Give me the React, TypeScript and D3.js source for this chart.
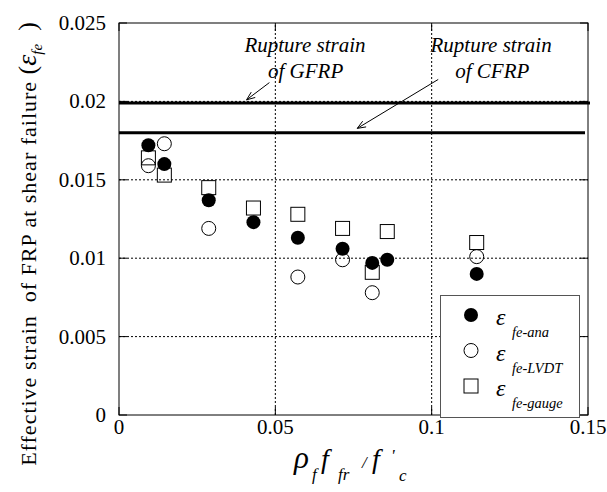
import React from "react";
import * as d3 from "d3";

const xValues = [0.0094, 0.0145, 0.0287, 0.043, 0.0572, 0.0715, 0.081, 0.0858, 0.1144];
const anaValues = [0.0172, 0.016, 0.0137, 0.0123, 0.0113, 0.0106, 0.0097, 0.0099, 0.009];
const lvdtValues: (number | null)[] = [0.0159, 0.0173, 0.0119, null, 0.0088, 0.0099, 0.0078, null, 0.0101];
const gaugeValues = [0.0164, 0.0153, 0.0145, 0.0132, 0.0128, 0.0119, 0.0091, 0.0117, 0.011];

const xTicks = [0, 0.05, 0.1, 0.15];
const yTicks = [0, 0.005, 0.01, 0.015, 0.02, 0.025];
const xTickLabels = ["0", "0.05", "0.1", "0.15"];
const yTickLabels = ["0", "0.005", "0.01", "0.015", "0.02", "0.025"];

const ruptureGFRP = 0.0199;
const ruptureCFRP = 0.018;

const W = 607;
const H = 492;
const M = { left: 119, right: 19, top: 23, bottom: 77 };
const FONT = '"Liberation Serif", "Times New Roman", Times, "DejaVu Serif", serif';

export default function App() {
  const x = d3.scaleLinear().domain([0, 0.15]).range([M.left, W - M.right]);
  const y = d3.scaleLinear().domain([0, 0.025]).range([H - M.bottom, M.top]);
  const x0 = x(0), x1 = x(0.15), y0 = y(0), y1 = y(0.025);
  const R = 7;
  const S = 14;

  const arrow = (sx: number, sy: number, tx: number, ty: number, key: string) => {
    const ax = x(sx), ay = y(sy), bx = x(tx), by = y(ty);
    const ang = Math.atan2(by - ay, bx - ax);
    const L = 9, spread = 0.38;
    const p1 = [bx - L * Math.cos(ang - spread), by - L * Math.sin(ang - spread)];
    const p2 = [bx - L * Math.cos(ang + spread), by - L * Math.sin(ang + spread)];
    return (
      <g key={key} stroke="#000" strokeWidth={1} fill="none">
        <line x1={ax} y1={ay} x2={bx} y2={by} />
        <path d={`M${p1[0]},${p1[1]} L${bx},${by} L${p2[0]},${p2[1]}`} />
      </g>
    );
  };

  return (
    <svg width={W} height={H} style={{ position: "absolute", left: 0, top: 0, background: "#fff", fontFamily: FONT }}>
      <rect x={0} y={0} width={W} height={H} fill="#fff" />
      {/* grid */}
      <g stroke="#000" strokeWidth={1} strokeDasharray="2,2">
        {xTicks.slice(1, -1).map((t) => (
          <line key={"gx" + t} x1={x(t)} x2={x(t)} y1={y0} y2={y1} />
        ))}
        {yTicks.slice(1, -1).map((t) => (
          <line key={"gy" + t} x1={x0} x2={x1} y1={y(t)} y2={y(t)} />
        ))}
      </g>
      {/* ticks */}
      <g stroke="#000" strokeWidth={1}>
        {xTicks.map((t) => (
          <g key={"tx" + t}>
            <line x1={x(t)} x2={x(t)} y1={y0} y2={y0 - 8} />
            <line x1={x(t)} x2={x(t)} y1={y1} y2={y1 + 8} />
          </g>
        ))}
        {yTicks.map((t) => (
          <g key={"ty" + t}>
            <line x1={x0} x2={x0 + 8} y1={y(t)} y2={y(t)} />
            <line x1={x1} x2={x1 - 8} y1={y(t)} y2={y(t)} />
          </g>
        ))}
      </g>
      {/* rupture lines */}
      <line x1={x0} x2={x1 + 2} y1={y(ruptureGFRP)} y2={y(ruptureGFRP)} stroke="#000" strokeWidth={3} />
      <line x1={x0} x2={x1 - 3} y1={y(ruptureCFRP)} y2={y(ruptureCFRP)} stroke="#000" strokeWidth={3} />
      {/* frame */}
      <rect x={x0} y={y1} width={x1 - x0} height={y0 - y1} fill="none" stroke="#000" strokeWidth={1} />
      {/* annotations */}
      <g fontStyle="italic" fontSize={21} textAnchor="middle" fill="#000">
        <text x={x(0.0595)} y={y(0.02315)}>Rupture strain</text>
        <text x={x(0.0597)} y={y(0.0215)}>of GFRP</text>
        <text x={x(0.119)} y={y(0.02315)}>Rupture strain</text>
        <text x={x(0.1194)} y={y(0.0215)}>of CFRP</text>
      </g>
      {arrow(0.0481, 0.0212, 0.0408, 0.0201, "ag")}
      {arrow(0.1021, 0.0214, 0.0762, 0.01828, "ac")}
      {/* data */}
      <g fill="none" stroke="#000" strokeWidth={1}>
        {gaugeValues.map((v, i) => (
          <rect key={"s" + i} x={x(xValues[i]) - S / 2} y={y(v) - S / 2} width={S} height={S} />
        ))}
        {lvdtValues.map((v, i) =>
          v == null ? null : <circle key={"o" + i} cx={x(xValues[i])} cy={y(v)} r={R} />
        )}
      </g>
      <g fill="#000">
        {anaValues.map((v, i) => (
          <circle key={"f" + i} cx={x(xValues[i])} cy={y(v)} r={R} />
        ))}
      </g>
      {/* legend */}
      <g>
        <rect x={440.5} y={295.5} width={139} height={122} fill="#fff" stroke="#555" strokeWidth={1} />
        <circle cx={471} cy={315} r={R} fill="#000" />
        <circle cx={471} cy={350.5} r={R} fill="none" stroke="#000" />
        <rect x={471 - S / 2} y={386 - S / 2} width={S} height={S} fill="none" stroke="#000" />
        {[["fe-ana", 325], ["fe-LVDT", 361], ["fe-gauge", 396]].map(([lab, by]) => (
          <text key={lab as string} x={496} y={by as number} fontStyle="italic" fill="#000">
            <tspan fontSize={24}>ε</tspan>
            <tspan fontSize={14.5} x={512} dy={12}>{lab}</tspan>
          </text>
        ))}
      </g>
      {/* tick labels */}
      <g fontSize={21} fill="#000">
        {yTicks.map((t, i) => (
          <text key={"yl" + t} x={106} y={y(t)} dy="0.33em" textAnchor="end">{yTickLabels[i]}</text>
        ))}
        {xTicks.map((t, i) => (
          <text key={"xl" + t} x={x(t)} y={434} textAnchor="middle">{xTickLabels[i]}</text>
        ))}
      </g>
      {/* y label */}
      <text transform="translate(36,244) rotate(-90)" textAnchor="middle" fontSize={22} fill="#000" style={{ whiteSpace: "pre" }}>
        <tspan letterSpacing={1}>Effective strain  of FRP at shear failure </tspan>
        <tspan fontSize={26}>(</tspan>
        <tspan fontStyle="italic" fontSize={28}>ε</tspan>
        <tspan fontStyle="italic" fontSize={15} dy={6}>fe</tspan>
        <tspan fontSize={26} dy={-6}>  )</tspan>
      </text>
      {/* x label */}
      <text y={468} fontStyle="italic" fontSize={28} fill="#000">
        <tspan x={294} fontSize={31}>ρ</tspan>
        <tspan x={312} fontSize={17} dy={12}>f</tspan>
        <tspan x={321} dy={-12}>f</tspan>
        <tspan x={338} fontSize={17} dy={12}>fr</tspan>
        <tspan x={362} fontSize={17} dy={-12}>/</tspan>
        <tspan x={372}>f</tspan>
        <tspan x={391} fontSize={17} dy={-7}>'</tspan>
        <tspan x={399} fontSize={17} dy={20}>c</tspan>
      </text>
    </svg>
  );
}
